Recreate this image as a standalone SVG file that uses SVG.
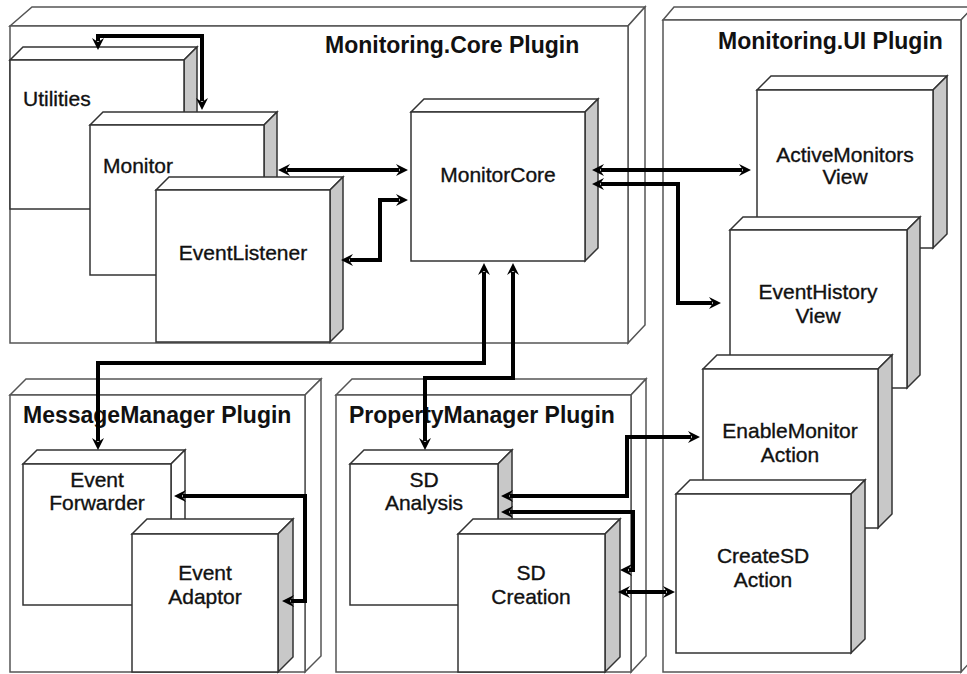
<svg xmlns="http://www.w3.org/2000/svg" width="967" height="674" viewBox="0 0 967 674">
<style>
.pf{fill:#fff;stroke:#555;stroke-width:1.5}
.nf{fill:#fff;stroke:#333;stroke-width:1.5}
.ns{fill:#c8c8c8;stroke:#333;stroke-width:1.5}
.nw{fill:#fff;stroke:#333;stroke-width:1.5}
.pl{font-family:"Liberation Sans",Arial,sans-serif;font-weight:bold;font-size:23px;fill:#111}
.nl{font-family:"Liberation Sans",Arial,sans-serif;font-size:21px;fill:#111;stroke:#111;stroke-width:0.35}
.c{text-anchor:middle}
.cn{fill:none;stroke:#000;stroke-width:4;stroke-linejoin:miter;marker-start:url(#ah);marker-end:url(#ah)}
</style>
<defs>
<marker id="ah" markerUnits="userSpaceOnUse" markerWidth="13" markerHeight="13" refX="3" refY="6" orient="auto-start-reverse" viewBox="0 0 13 12">
<path d="M0,0 L12,6 L0,12 L4,6 Z" fill="#000"/>
</marker>
</defs>
<rect width="967" height="674" fill="#fff"/>

<g id="core-plugin">
<polygon class="pf" points="10,26 32,7 645,7 628,26"/>
<polygon class="pf" points="628,26 645,7 645,325 628,343"/>
<rect class="pf" x="10" y="26" width="618" height="317"/>
<text class="pl" x="325" y="53">Monitoring.Core Plugin</text>
</g>
<g id="ui-plugin">
<polygon class="pf" points="663,20 674,7 973,7 961,20"/>
<polygon class="pf" points="961,20 973,7 973,659 961,672"/>
<rect class="pf" x="663" y="20" width="298" height="652"/>
<text class="pl" x="718" y="49">Monitoring.UI Plugin</text>
</g>
<g id="mm-plugin">
<polygon class="pf" points="10,395 26,379 321,379 305,395"/>
<polygon class="pf" points="305,395 321,379 321,656 305,672"/>
<rect class="pf" x="10" y="395" width="295" height="277"/>
<text class="pl" x="23" y="423">MessageManager Plugin</text>
</g>
<g id="pm-plugin">
<polygon class="pf" points="336,395 352,379 646,379 631,395"/>
<polygon class="pf" points="631,395 646,379 646,656 631,672"/>
<rect class="pf" x="336" y="395" width="295" height="277"/>
<text class="pl" x="349" y="423">PropertyManager Plugin</text>
</g>

<g id="utilities">
<polygon class="nf" points="10,60 23,47 197,47 184,60"/>
<polygon class="ns" points="184,60 197,47 197,196 184,209"/>
<rect class="nf" x="10" y="60" width="174" height="149"/>
<text class="nl" x="23" y="106">Utilities</text>
</g>
<g id="monitor">
<polygon class="nf" points="90,125 103,112 277,112 264,125"/>
<polygon class="ns" points="264,125 277,112 277,262 264,275"/>
<rect class="nf" x="90" y="125" width="174" height="150"/>
<text class="nl" x="103" y="173">Monitor</text>
</g>
<g id="eventlistener">
<polygon class="nf" points="156,190 169,177 343,177 330,190"/>
<polygon class="ns" points="330,190 343,177 343,329 330,342"/>
<rect class="nf" x="156" y="190" width="174" height="152"/>
<text class="nl c" x="243" y="260">EventListener</text>
</g>
<g id="monitorcore">
<polygon class="nf" points="411,112 424,99 598,99 585,112"/>
<polygon class="ns" points="585,112 598,99 598,248 585,261"/>
<rect class="nf" x="411" y="112" width="174" height="149"/>
<text class="nl c" x="498" y="182">MonitorCore</text>
</g>

<g id="activemonitors">
<polygon class="nf" points="757,90 771,76 947,76 933,90"/>
<polygon class="ns" points="933,90 947,76 947,234 933,248"/>
<rect class="nf" x="757" y="90" width="176" height="158"/>
<text class="nl c" x="845" y="162">ActiveMonitors</text>
<text class="nl c" x="845" y="184">View</text>
</g>
<g id="eventhistory">
<polygon class="nf" points="730,230 743,217 920,217 907,230"/>
<polygon class="ns" points="907,230 920,217 920,375 907,388"/>
<rect class="nf" x="730" y="230" width="177" height="158"/>
<text class="nl c" x="818" y="299">EventHistory</text>
<text class="nl c" x="818" y="323">View</text>
</g>
<g id="enablemonitor">
<polygon class="nf" points="703,369 717,355 892,355 878,369"/>
<polygon class="ns" points="878,369 892,355 892,514 878,528"/>
<rect class="nf" x="703" y="369" width="175" height="159"/>
<text class="nl c" x="790" y="438">EnableMonitor</text>
<text class="nl c" x="790" y="462">Action</text>
</g>
<g id="createsd">
<polygon class="nf" points="676,494 690,480 865,480 851,494"/>
<polygon class="ns" points="851,494 865,480 865,639 851,653"/>
<rect class="nf" x="676" y="494" width="175" height="159"/>
<text class="nl c" x="763" y="563">CreateSD</text>
<text class="nl c" x="763" y="587">Action</text>
</g>

<g id="eventforwarder">
<polygon class="nf" points="23,464 37,450 185,450 171,464"/>
<polygon class="nw" points="171,464 185,450 185,591 171,605"/>
<rect class="nf" x="23" y="464" width="148" height="141"/>
<text class="nl c" x="97" y="487">Event</text>
<text class="nl c" x="97" y="510">Forwarder</text>
</g>
<g id="eventadaptor">
<polygon class="nf" points="132,534 147,519 293,519 278,534"/>
<polygon class="ns" points="278,534 293,519 293,657 278,672"/>
<rect class="nf" x="132" y="534" width="146" height="138"/>
<text class="nl c" x="205" y="580">Event</text>
<text class="nl c" x="205" y="604">Adaptor</text>
</g>
<g id="sdanalysis">
<polygon class="nf" points="350,464 364,450 512,450 498,464"/>
<polygon class="ns" points="498,464 512,450 512,591 498,605"/>
<rect class="nf" x="350" y="464" width="148" height="141"/>
<text class="nl c" x="424" y="487">SD</text>
<text class="nl c" x="424" y="510">Analysis</text>
</g>
<g id="sdcreation">
<polygon class="nf" points="458,534 473,519 620,519 605,534"/>
<polygon class="ns" points="605,534 620,519 620,657 605,672"/>
<rect class="nf" x="458" y="534" width="147" height="138"/>
<text class="nl c" x="531" y="580">SD</text>
<text class="nl c" x="531" y="604">Creation</text>
</g>

<g id="connectors">
<polyline class="cn" points="98,41 98,36 202,36 202,101"/>
<polyline class="cn" points="287,170 399,170"/>
<polyline class="cn" points="350,260 380,260 380,200 399,200"/>
<polyline class="cn" points="601,170 742,170"/>
<polyline class="cn" points="601,184 678,184 678,303 712,303"/>
<polyline class="cn" points="484,272 484,363 98,363 98,441"/>
<polyline class="cn" points="513,272 513,378 425,378 425,441"/>
<polyline class="cn" points="183,496 305,496 305,601 291,601"/>
<polyline class="cn" points="691,437 627,437 627,496 510,496"/>
<polyline class="cn" points="510,512 633,512 633,570 629,570"/>
<polyline class="cn" points="627,592 666,592"/>
</g>
</svg>
